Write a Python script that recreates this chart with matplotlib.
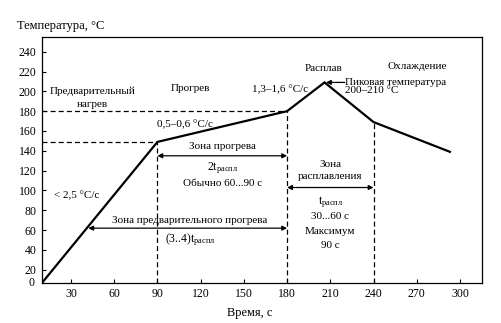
import matplotlib
matplotlib.use('Agg')
import matplotlib.pyplot as plt

plt.rcParams['font.family'] = ['Liberation Serif', 'DejaVu Serif']
plt.rcParams['mathtext.fontset'] = 'custom'
plt.rcParams['mathtext.rm'] = 'Liberation Serif'
plt.rcParams['mathtext.it'] = 'Liberation Serif'

# Temperature profile (time, s -> temperature, °C)
time_pts = [10, 90, 180, 206, 240, 293]
temp_pts = [7, 149, 180, 209, 169, 139]

x_ticks = [30, 60, 90, 120, 150, 180, 210, 240, 270, 300]
y_ticks = [20, 40, 60, 80, 100, 120, 140, 160, 180, 200, 220, 240]

fig = plt.figure(figsize=(5.02, 3.23), dpi=100)
ax = fig.add_axes([0.0837, 0.1248, 0.8765, 0.7597])
ax.set_xlim(9.9, 315.3)
ax.set_ylim(7, 254.5)

ax.plot(time_pts, temp_pts, color='black', lw=1.6, solid_joinstyle='miter')

# dashed guide lines
dash = dict(color='black', lw=0.9, ls=(0, (4, 2.5)))
ax.plot([9.9, 90], [149, 149], **dash)
ax.plot([9.9, 180], [180, 180], **dash)
ax.plot([90, 90], [7, 149], **dash)
ax.plot([180, 180], [7, 180], **dash)
ax.plot([240, 240], [7, 169], **dash)

arrow = dict(arrowstyle='<|-|>', color='black', lw=0.9, mutation_scale=7,
             shrinkA=0, shrinkB=0)
ax.annotate('', xy=(90, 135), xytext=(180, 135), arrowprops=arrow)
ax.annotate('', xy=(42, 62), xytext=(180, 62), arrowprops=arrow)
ax.annotate('', xy=(180, 103), xytext=(240, 103), arrowprops=arrow)

fs = 8
txt = dict(fontsize=fs, ha='center', va='center')
ax.text(45, 200, 'Предварительный', **txt)
ax.text(45, 187, 'нагрев', **txt)
ax.text(112.6, 203, 'Прогрев', **txt)
ax.text(109, 167, '0,5–0,6 °C/c', **txt)
ax.text(34, 95, '< 2,5 °C/c', **txt)
ax.text(175, 202, '1,3–1,6 °C/c', **txt)
ax.text(205, 223, 'Расплав', **txt)
ax.text(270, 225, 'Охлаждение', **txt)
ax.text(220, 209, 'Пиковая температура', fontsize=fs, ha='left', va='center')
ax.text(238.7, 200.5, '200–210 °C', **txt)
ax.annotate('', xy=(207, 209), xytext=(220, 209),
            arrowprops=dict(arrowstyle='-|>', color='black', lw=0.9,
                            mutation_scale=7, shrinkA=0, shrinkB=0))

ax.text(135, 144, 'Зона прогрева', **txt)
ax.text(135, 123, r'2t$_{\mathrm{распл}}$', fontsize=8.5, ha='center', va='center')
ax.text(135, 107, 'Обычно 60...90 с', **txt)

ax.text(112.6, 70, 'Зона предварительного прогрева', **txt)
ax.text(112.6, 50, r'(3..4)t$_{\mathrm{распл}}$', fontsize=8.5, ha='center', va='center')

ax.text(210, 126, 'Зона', **txt)
ax.text(210, 114, 'расплавления', **txt)
ax.text(210, 88, r't$_{\mathrm{распл}}$', fontsize=8.5, ha='center', va='center')
ax.text(210, 73.5, '30...60 с', **txt)
ax.text(210, 59, 'Максимум', **txt)
ax.text(210, 45, '90 с', **txt)

ax.set_xticks(x_ticks)
ax.set_yticks(y_ticks)
ax.tick_params(direction='in', length=3, width=0.8, labelsize=8.5, pad=4)
for s in ax.spines.values():
    s.set_linewidth(0.9)

fig.text(0.062, 0.125, '0', fontsize=8.5, ha='center', va='center')
fig.text(0.034, 0.92, 'Температура, °C', fontsize=9, ha='left', va='center')
fig.text(0.498, 0.031, 'Время, с', fontsize=9, ha='center', va='center')

fig.savefig('out.png', dpi=100)
